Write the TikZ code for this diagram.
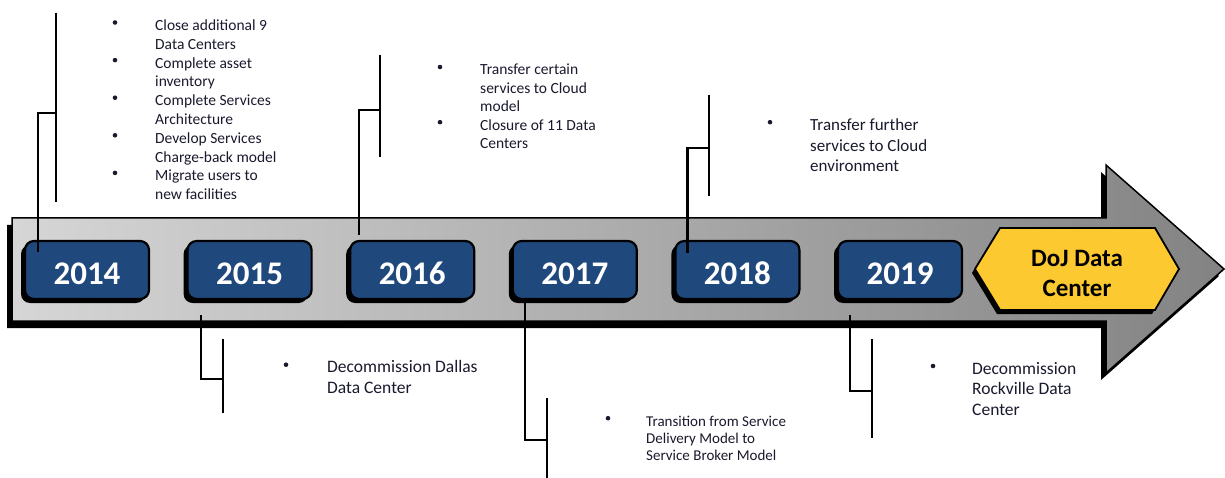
\documentclass[tikz,border=0pt]{standalone}
\usepackage{fontspec}
\setmainfont{Carlito}
\usetikzlibrary{shadows}
\definecolor{yearblue}{HTML}{1F487C}
\definecolor{dojyellow}{HTML}{FDC930}
\definecolor{txt}{HTML}{1A1A2E}
\definecolor{arrowL}{HTML}{D6D6D6}
\definecolor{arrowR}{HTML}{838383}
\tikzset{
  yearbox/.style={rectangle, rounded corners=9pt, fill=yearblue, draw=black,
    line width=2.2pt, minimum width=124pt, minimum height=58pt, inner sep=0pt,
    text=white, font=\fontsize{33}{36}\selectfont\bfseries,
    text height=29pt, text depth=0pt,
    drop shadow={shadow xshift=-4pt, shadow yshift=-4pt, opacity=1, fill=black}},
  conn/.style={line width=2.2pt, draw=black},
  note/.style={anchor=base west, inner sep=0pt, text=txt},
  bul/.style={fill=txt},
  dojtext/.style={anchor=base, inner sep=0pt, text=black,
    font=\fontsize{25}{30}\selectfont\bfseries},
}
\begin{document}
\begin{tikzpicture}[x=1pt,y=-1pt]
\useasboundingbox (0,0) rectangle (1225,478);
\fill[white] (0,0) rectangle (1225,478);

% main arrow: shadow, shaded body, outline
\begin{scope}[shift={(-5,7)}]
  \fill[black] (12,218) -- (1106,218) -- (1106,165) -- (1224,269) -- (1106,373) -- (1106,321) -- (12,321) -- cycle;
\end{scope}
\shade[left color=arrowL, right color=arrowR] (12,218) -- (1106,218) -- (1106,165) -- (1224,269) -- (1106,373) -- (1106,321) -- (12,321) -- cycle;
\draw[black, line width=1.5pt, line join=miter] (12,218) -- (1106,218) -- (1106,165) -- (1224,269) -- (1106,373) -- (1106,321) -- (12,321) -- cycle;

% DoJ hexagon
\begin{scope}[shift={(-3,4)}]
  \fill[black] (975,269) -- (1000,228) -- (1155,228) -- (1179,269) -- (1155,310) -- (1000,310) -- cycle;
\end{scope}
\filldraw[fill=dojyellow, draw=black, line width=1.8pt] (975,269) -- (1000,228) -- (1155,228) -- (1179,269) -- (1155,310) -- (1000,310) -- cycle;
\node[dojtext] (doj) at (1077,266.7) {\begin{tabular}[t]{@{}c@{}}DoJ Data\\Center\end{tabular}};

% year boxes
\node[yearbox] (y14) at (87,270) {2014};
\node[yearbox] (y15) at (249.6,270) {2015};
\node[yearbox] (y16) at (412.2,270) {2016};
\node[yearbox] (y17) at (574.8,270) {2017};
\node[yearbox] (y18) at (737.4,270) {2018};
\node[yearbox] (y19) at (900,270) {2019};

% text groups
\node[note, font=\fontsize{15.5}{18.8}\selectfont] (t14) at (155,30.5) {\begin{tabular}[t]{@{}l@{}}Close additional 9\\Data Centers\\Complete asset\\inventory\\Complete Services\\Architecture\\Develop Services\\Charge-back model\\Migrate users to\\new facilities\end{tabular}};
\node[note, font=\fontsize{17.5}{20.7}\selectfont] (t15) at (327,372.7) {\begin{tabular}[t]{@{}l@{}}Decommission Dallas\\Data Center\end{tabular}};
\node[note, font=\fontsize{15.5}{18.4}\selectfont] (t16) at (480,75) {\begin{tabular}[t]{@{}l@{}}Transfer certain\\services to Cloud\\model\\Closure of 11 Data\\Centers\end{tabular}};
\node[note, font=\fontsize{15}{17}\selectfont] (t17) at (646,426.7) {\begin{tabular}[t]{@{}l@{}}Transition from Service\\Delivery Model to\\Service Broker Model\end{tabular}};
\node[note, font=\fontsize{17}{20.5}\selectfont] (t18) at (810,130.7) {\begin{tabular}[t]{@{}l@{}}Transfer further\\services to Cloud\\environment\end{tabular}};
\node[note, font=\fontsize{17.5}{20.5}\selectfont] (t19) at (972,374) {\begin{tabular}[t]{@{}l@{}}Decommission\\Rockville Data\\Center\end{tabular}};

% bullets
\foreach \k in {0,2,4,6,8} \fill[bul] ([shift={(-40,-8+18.8*\k)}]t14.base west) circle (2.3);
\fill[bul] ([shift={(-41,-8)}]t15.base west) circle (2.3);
\foreach \k in {0,3} \fill[bul] ([shift={(-40,-8+18.4*\k)}]t16.base west) circle (2.3);
\fill[bul] ([shift={(-38,-8.5)}]t17.base west) circle (2.3);
\fill[bul] ([shift={(-40,-8.5)}]t18.base west) circle (2.3);
\fill[bul] ([shift={(-39,-8)}]t19.base west) circle (2.3);

% bracket bars and junctions
\coordinate (j14) at (56,113);   \coordinate (b14a) at (56,12.7);  \coordinate (b14b) at (56,201.7);
\coordinate (j15) at (223,379);  \coordinate (b15a) at (223,339);  \coordinate (b15b) at (223,413);
\coordinate (j16) at (380,110);  \coordinate (b16a) at (380,55);   \coordinate (b16b) at (380,156.7);
\coordinate (j17) at (547,440);  \coordinate (b17a) at (547,398);  \coordinate (b17b) at (547,478);
\coordinate (j18) at (709,148);  \coordinate (b18a) at (709,95);   \coordinate (b18b) at (709,196);
\coordinate (j19) at (872,391);  \coordinate (b19a) at (872,339);  \coordinate (b19b) at (872,438);

\draw[conn] (b14a) -- (b14b);
\draw[conn] (b15a) -- (b15b);
\draw[conn] (b16a) -- (b16b);
\draw[conn] (b17a) -- (b17b);
\draw[conn] (b18a) -- (b18b);
\draw[conn] (b19a) -- (b19b);

% connectors from year boxes
\draw[conn] ([shift={(-49,-18)}]y14.center) |- (j14);
\draw[conn] ([shift={(-49,45)}]y15.center) |- (j15);
\draw[conn] ([shift={(-53,-35)}]y16.center) |- (j16);
\draw[conn] ([shift={(-50,28)}]y17.center) |- (j17);
\draw[conn] ([shift={(-50,-17)}]y18.center) |- (j18);
\draw[conn] ([shift={(-50,45)}]y19.center) |- (j19);
\end{tikzpicture}
\end{document}
